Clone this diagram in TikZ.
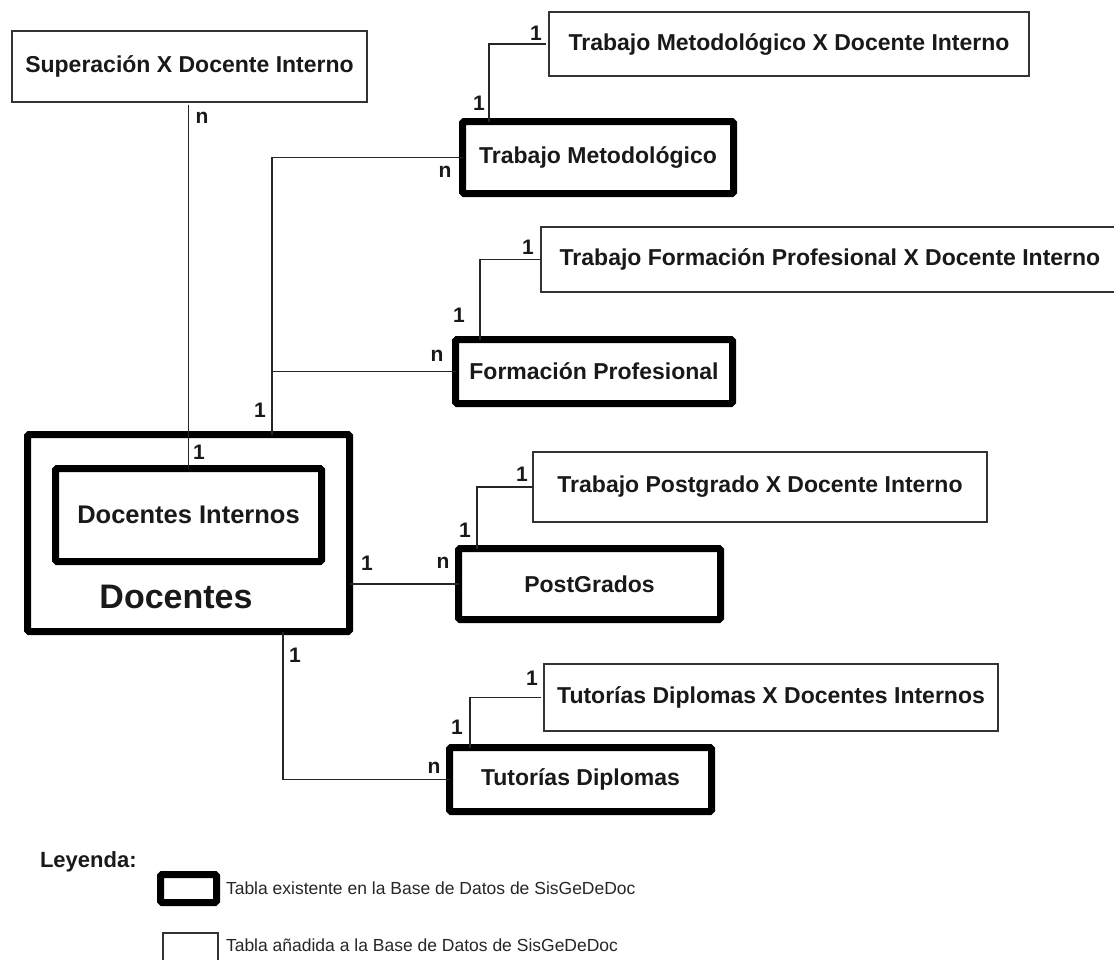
\documentclass[tikz,border=0pt]{standalone}
\usepackage{fontspec}
\setmainfont{Liberation Sans}
\begin{document}
\begin{tikzpicture}[x=1pt,y=-1pt,
  every node/.style={inner sep=0pt, outer sep=0pt},
  existente/.style={draw=black, line width=7pt, rounded corners=1.5pt, fill=white,
    font=\fontsize{23}{27}\selectfont\bfseries, text=black!90},
  anadida/.style={draw=black!80, line width=1.8pt, fill=white,
    font=\fontsize{23}{27}\selectfont\bfseries, text=black!90},
  conector/.style={draw=black!85, line width=1.6pt},
  card/.style={font=\fontsize{21}{24}\selectfont\bfseries, text=black!90},
  leyenda/.style={font=\fontsize{17.5}{20}\selectfont, text=black!85, anchor=west}]
\useasboundingbox (0,0) rectangle (1114,959);

% entidad principal
\node[existente, minimum width=322, minimum height=197] (doc) at (188.5,533) {};
\node[existente, minimum width=266, minimum height=93,
      font=\fontsize{25.5}{29}\selectfont\bfseries] (int) at (188.5,515) {Docentes Internos};
\node[font=\fontsize{34}{38}\selectfont\bfseries, text=black!90] (doctit) at (176,597) {Docentes};

% tablas existentes
\node[existente, minimum width=271, minimum height=72] (tm) at (598,157.5) {Trabajo Metodológico};
\node[existente, minimum width=277, minimum height=64] (tfp) at (594,371.5) {Formación Profesional};
\node[existente, minimum width=262, minimum height=71] (pg) at (589.5,584) {PostGrados};
\node[existente, minimum width=262, minimum height=64] (td) at (580.5,779.5) {Tutorías Diplomas};

% tablas añadidas
\node[anadida, minimum width=355, minimum height=71] (sup) at (189.5,66.5) {Superación X Docente Interno};
\node[anadida, minimum width=480, minimum height=64] (tmx) at (789,44) {Trabajo Metodológico X Docente Interno};
\node[anadida, minimum width=578, minimum height=65] (tfpx) at (830,259.5) {Trabajo Formación Profesional X Docente Interno};
\node[anadida, minimum width=454, minimum height=70] (tpx) at (760,487) {Trabajo Postgrado X Docente Interno};
\node[anadida, minimum width=454, minimum height=67] (tdx) at (771,697.5) {Tutorías Diplomas X Docentes Internos};

% columnas de los conectores
\coordinate (cA) at (272,0);
\coordinate (cB) at (283,0);
\coordinate (cM) at (489,0);
\coordinate (cF) at (480,0);
\coordinate (cP) at (477,0);
\coordinate (cT) at (470,0);

% relaciones con Docentes
\draw[conector] (int.north) -- ([yshift=-3pt]int.north |- sup.south);
\draw[conector] (cA |- doc.north) |- (tm.west);
\draw[conector] (tfp.west) -- (tfp.west -| cA);
\draw[conector] (doc.east |- pg.west) -- (pg.west);
\draw[conector] (cB |- doc.south) |- (td.west);

% relaciones con las tablas añadidas
\draw[conector] (cM |- tm.north) |- ([xshift=-3pt]tmx.west);
\draw[conector] (cF |- tfp.north) |- (tfpx.west);
\draw[conector] (cP |- pg.north) |- (tpx.west);
\draw[conector] (cT |- td.north) |- ([xshift=-3pt]tdx.west);

% cardinalidades
\node[card] (k1) at (202,118) {n};
\node[card] (k2) at (199,452) {1};
\node[card] (k3) at (260,410) {1};
\node[card] (k4) at (445,172) {n};
\node[card] (k5) at (437,356) {n};
\node[card] (k6) at (367,563) {1};
\node[card] (k7) at (443,563) {n};
\node[card] (k8) at (295,655) {1};
\node[card] (k9) at (434,768) {n};
\node[card] (k10) at (479,103) {1};
\node[card] (k11) at (536,33) {1};
\node[card] (k12) at (459,315) {1};
\node[card] (k13) at (528,247) {1};
\node[card] (k14) at (465,530) {1};
\node[card] (k15) at (522,474) {1};
\node[card] (k16) at (457,727) {1};
\node[card] (k17) at (532,678) {1};

% leyenda
\node[font=\fontsize{22}{26}\selectfont\bfseries, text=black!90, anchor=west] (ley) at (40,862) {Leyenda:};
\node[draw=black, line width=7pt, rounded corners=1.5pt, minimum width=56, minimum height=28] (lx) at (188.5,888.5) {};
\node[leyenda] (lxt) at (226,888) {Tabla existente en la Base de Datos de SisGeDeDoc};
\node[draw=black!80, line width=1.8pt, minimum width=55, minimum height=41] (la) at (190.5,953.5) {};
\node[leyenda] (lat) at (226,945) {Tabla añadida a la Base de Datos de SisGeDeDoc};
\end{tikzpicture}
\end{document}
